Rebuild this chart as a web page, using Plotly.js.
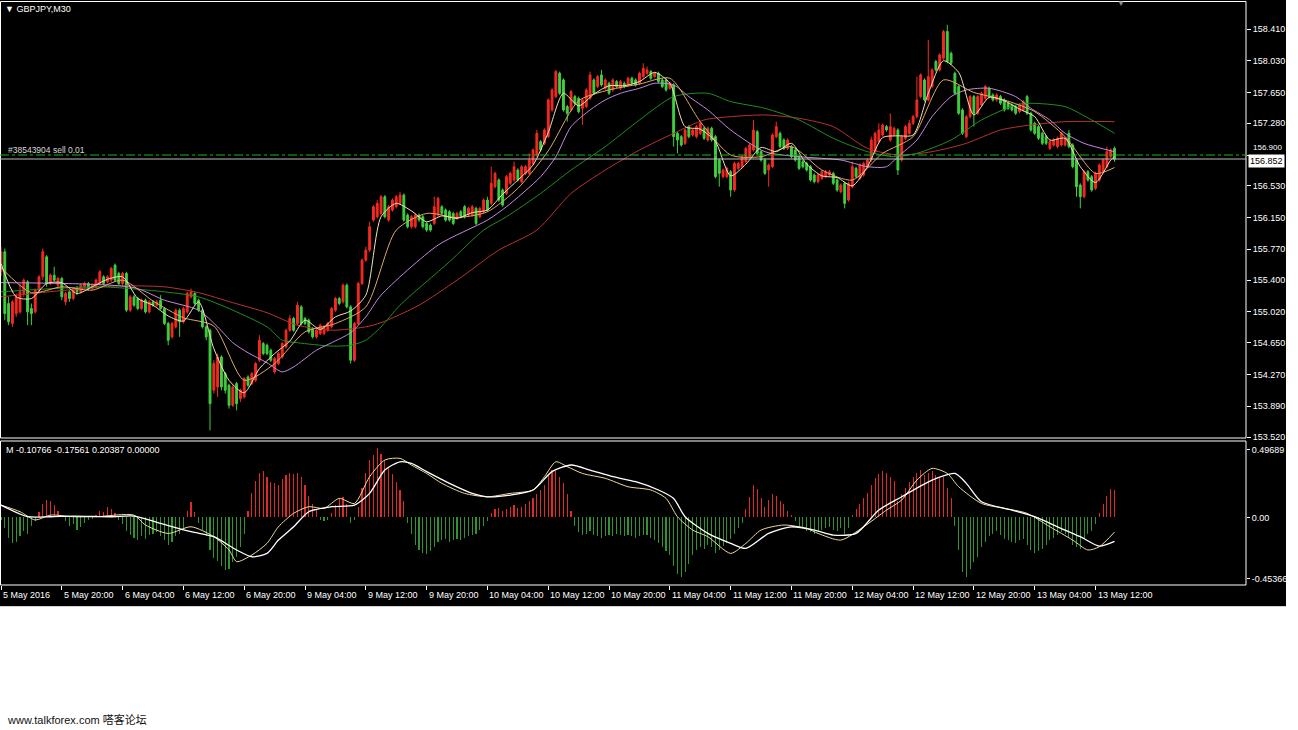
<!DOCTYPE html>
<html><head><meta charset="utf-8">
<script src="https://cdn.plot.ly/plotly-3.0.1.min.js"></script>
<style>html,body{margin:0;padding:0;background:#fff;overflow:hidden}#chart{width:1298px;height:730px}</style>
</head><body><div id="chart"></div>
<script>
const symbolTitle = "GBPJPY,M30";
const orderText = "#38543904 sell 0.01";
const indicatorText = "M -0.10766 -0.17561 0.20387 0.00000";
const watermark = "www.talkforex.com 嗒客论坛";
const orderPrice = 156.900;
const bidPrice = 156.852;

const timeLabels = ["5 May 2016","5 May 20:00","6 May 04:00","6 May 12:00","6 May 20:00","9 May 04:00","9 May 12:00","9 May 20:00","10 May 04:00","10 May 12:00","10 May 20:00","11 May 04:00","11 May 12:00","11 May 20:00","12 May 04:00","12 May 12:00","12 May 20:00","13 May 04:00","13 May 12:00"];
const barsPerLabel = 16;

const priceTicks = [158.410,158.030,157.650,157.280,156.900,156.530,156.150,155.770,155.400,155.020,154.650,154.270,153.890,153.520];
const macdTicks = [0.49689,0.00,-0.45366];
const macdTickText = ["0.49689","0.00","-0.45366"];

const opens = [
155.50,155.74,155.12,154.88,155.00,155.02,155.24,155.38,155.06,155.02,
155.28,155.44,155.68,155.36,155.46,155.34,155.42,155.14,155.26,155.18,
155.30,155.26,155.32,155.36,155.30,155.32,155.36,155.44,155.38,155.40,
155.58,155.48,155.36,155.48,155.04,155.20,155.18,155.06,155.16,155.02,
155.14,155.10,155.16,155.06,154.88,154.72,154.84,155.04,154.90,155.02,
155.20,155.24,155.16,155.04,154.84,154.80,154.08,154.12,154.48,154.28,
154.14,153.90,154.16,153.98,154.00,154.24,154.16,154.20,154.44,154.64,
154.62,154.56,154.30,154.40,154.48,154.60,154.80,154.94,154.88,155.08,
154.94,154.92,154.82,154.72,154.76,154.76,154.80,154.84,155.04,155.18,
155.14,155.34,155.08,154.44,154.88,155.36,155.64,155.76,156.12,156.16,
156.20,156.40,156.12,156.24,156.28,156.32,156.42,156.18,156.04,156.04,
156.18,156.16,156.08,156.06,156.08,156.18,156.28,156.24,156.22,156.20,
156.14,156.22,156.28,156.18,156.18,156.26,156.16,156.22,156.36,156.32,
156.52,156.60,156.48,156.44,156.56,156.60,156.72,156.58,156.68,156.68,
156.80,156.90,157.06,157.04,157.12,157.44,157.60,157.88,157.80,157.48,
157.44,157.60,157.58,157.46,157.48,157.58,157.80,157.72,157.86,157.70,
157.76,157.68,157.78,157.70,157.76,157.74,157.82,157.80,157.76,157.84,
157.88,157.90,157.84,157.88,157.80,157.80,157.70,157.74,157.16,157.12,
157.04,157.24,157.14,157.12,157.16,157.22,157.08,157.22,157.12,156.84,
156.64,156.64,156.70,156.48,156.74,156.76,156.82,156.88,156.96,157.18,
156.94,156.84,156.72,156.76,157.12,157.16,157.08,156.98,157.00,156.96,
156.88,156.82,156.80,156.76,156.66,156.58,156.62,156.64,156.66,156.68,
156.60,156.46,156.56,156.36,156.52,156.74,156.62,156.66,156.76,156.84,
156.94,157.06,157.14,157.24,157.08,157.14,157.20,156.84,157.10,157.16,
157.28,157.36,157.60,157.80,157.56,157.72,158.02,157.92,158.06,158.38,
158.12,157.88,157.72,157.44,157.12,157.36,157.60,157.40,157.50,157.58,
157.70,157.62,157.56,157.60,157.56,157.52,157.50,157.48,157.42,157.44,
157.60,157.40,157.28,157.24,157.16,157.12,156.98,157.02,157.00,157.02,
157.02,157.16,157.02,156.84,156.54,156.40,156.70,156.64,156.50,156.60,
156.70,156.76,156.88,156.98];

const highs = [
155.80,155.78,155.20,155.16,155.24,155.36,155.42,155.40,155.12,155.30,
155.46,155.78,155.70,155.48,155.56,155.44,155.44,155.26,155.28,155.32,
155.33,155.36,155.38,155.38,155.36,155.42,155.52,155.46,155.46,155.56,
155.60,155.50,155.50,155.50,155.22,155.22,155.20,155.18,155.18,155.16,
155.16,155.16,155.22,155.08,154.90,154.90,155.06,155.06,155.08,155.26,
155.30,155.26,155.18,155.06,154.86,154.82,154.44,154.52,154.50,154.30,
154.16,154.14,154.18,154.10,154.24,154.26,154.30,154.42,154.74,154.66,
154.64,154.58,154.48,154.54,154.66,154.82,154.98,154.96,155.14,155.10,
154.96,154.94,154.84,154.82,154.88,154.86,154.90,155.08,155.20,155.20,
155.36,155.36,155.10,154.90,155.38,155.66,155.80,156.10,156.30,156.36,
156.42,156.42,156.30,156.38,156.42,156.46,156.44,156.20,156.18,156.20,
156.20,156.18,156.10,156.08,156.40,156.40,156.30,156.26,156.24,156.22,
156.22,156.24,156.30,156.28,156.30,156.28,156.28,156.38,156.40,156.76,
156.70,156.62,156.50,156.66,156.70,156.82,156.74,156.78,156.78,156.92,
156.98,157.20,157.08,157.22,157.58,157.70,157.92,157.90,157.82,157.50,
157.68,157.62,157.60,157.58,157.70,157.90,157.82,157.86,157.92,157.82,
157.78,157.82,157.80,157.80,157.78,157.84,157.84,157.82,157.90,158.00,
157.96,157.92,157.90,157.90,157.82,157.82,157.78,157.76,157.18,157.14,
157.22,157.26,157.22,157.26,157.30,157.24,157.24,157.24,157.14,156.86,
156.74,156.76,156.72,156.82,156.82,156.90,157.00,157.04,157.32,157.20,
156.96,156.86,156.80,157.16,157.30,157.18,157.10,157.10,157.02,156.98,
156.90,156.84,156.82,156.78,156.68,156.68,156.72,156.72,156.72,156.70,
156.62,156.56,156.58,156.58,156.82,156.76,156.80,156.82,156.86,157.12,
157.18,157.28,157.28,157.26,157.40,157.24,157.22,157.14,157.26,157.32,
157.38,157.84,157.88,157.82,158.28,157.94,158.04,158.12,158.40,158.46,
158.14,157.90,157.74,157.46,157.38,157.62,157.62,157.62,157.66,157.74,
157.72,157.64,157.64,157.62,157.58,157.54,157.52,157.50,157.52,157.56,
157.62,157.42,157.30,157.26,157.18,157.14,157.08,157.10,157.12,157.18,
157.12,157.20,157.04,156.86,156.56,156.72,156.72,156.66,156.70,156.80,
156.86,157.00,156.98,157.00];

const lows = [
155.45,154.92,154.86,154.84,154.96,155.00,155.20,154.86,154.86,155.00,
155.24,155.40,155.32,155.34,155.38,155.30,155.16,155.10,155.14,155.16,
155.22,155.24,155.30,155.28,155.28,155.30,155.34,155.34,155.36,155.38,
155.38,155.34,155.34,155.02,155.02,155.08,155.04,155.04,155.00,155.00,
155.08,155.08,155.04,154.86,154.62,154.70,154.82,154.72,154.88,155.00,
155.18,155.10,155.02,154.82,154.68,153.60,154.04,154.00,154.08,154.04,
153.86,153.88,153.84,153.94,153.98,154.12,154.14,154.18,154.42,154.50,
154.50,154.42,154.28,154.38,154.46,154.58,154.78,154.78,154.86,154.86,
154.86,154.76,154.70,154.70,154.74,154.74,154.78,154.82,155.02,155.10,
155.12,155.06,154.40,154.42,154.86,155.34,155.62,155.74,156.10,156.14,
156.18,156.14,156.10,156.22,156.26,156.30,156.10,156.02,156.02,156.02,
156.10,156.02,155.98,155.98,156.06,156.16,156.18,156.10,156.10,156.06,
156.12,156.14,156.14,156.16,156.16,156.06,156.14,156.20,156.22,156.30,
156.50,156.34,156.28,156.42,156.54,156.58,156.58,156.56,156.66,156.66,
156.78,156.88,156.94,157.02,157.10,157.42,157.58,157.62,157.42,157.30,
157.42,157.50,157.40,157.26,157.46,157.56,157.62,157.70,157.72,157.68,
157.62,157.66,157.70,157.68,157.70,157.72,157.74,157.72,157.74,157.82,
157.86,157.80,157.82,157.76,157.70,157.66,157.68,157.00,156.92,157.00,
157.02,157.10,157.12,157.10,157.14,157.08,157.06,157.06,156.62,156.52,
156.62,156.62,156.40,156.46,156.72,156.74,156.80,156.86,156.94,156.90,
156.82,156.66,156.52,156.74,157.10,156.98,156.96,156.96,156.86,156.82,
156.72,156.74,156.70,156.58,156.56,156.56,156.60,156.62,156.64,156.54,
156.46,156.44,156.26,156.34,156.50,156.62,156.60,156.64,156.74,156.82,
156.92,157.04,157.12,157.18,157.06,157.12,156.66,156.82,157.08,157.14,
157.26,157.34,157.58,157.54,157.54,157.70,157.90,157.90,158.04,158.00,
157.98,157.62,157.38,157.14,157.10,157.34,157.24,157.38,157.48,157.56,
157.58,157.54,157.54,157.50,157.42,157.44,157.42,157.38,157.40,157.42,
157.38,157.18,157.14,157.08,157.02,157.02,156.96,157.00,156.98,157.00,
157.00,156.98,156.74,156.40,156.26,156.38,156.58,156.46,156.48,156.58,
156.68,156.74,156.86,156.82];

const closes = [
155.74,155.00,154.90,155.14,155.20,155.26,155.40,155.02,155.00,155.28,
155.44,155.74,155.36,155.46,155.40,155.42,155.20,155.24,155.18,155.30,
155.26,155.34,155.36,155.30,155.34,155.40,155.50,155.36,155.44,155.54,
155.40,155.36,155.48,155.04,155.20,155.10,155.06,155.16,155.02,155.14,
155.10,155.14,155.06,154.88,154.68,154.88,155.04,154.90,155.06,155.24,
155.26,155.12,155.04,154.84,154.72,153.92,154.40,154.48,154.12,154.08,
153.90,154.12,153.92,154.08,154.22,154.14,154.28,154.40,154.68,154.52,
154.52,154.44,154.46,154.52,154.64,154.80,154.94,154.80,155.10,154.88,
154.88,154.78,154.72,154.80,154.86,154.84,154.88,155.06,155.18,155.12,
155.34,155.08,154.44,154.88,155.36,155.64,155.76,156.04,156.28,156.32,
156.40,156.16,156.28,156.36,156.40,156.42,156.12,156.04,156.16,156.18,
156.12,156.04,156.00,156.00,156.28,156.38,156.20,156.12,156.12,156.08,
156.20,156.16,156.16,156.26,156.28,156.08,156.26,156.36,156.24,156.56,
156.68,156.36,156.30,156.64,156.68,156.76,156.60,156.76,156.76,156.84,
156.96,157.16,156.96,157.20,157.56,157.68,157.90,157.64,157.44,157.40,
157.66,157.52,157.42,157.56,157.68,157.86,157.64,157.84,157.74,157.80,
157.64,157.80,157.72,157.78,157.72,157.82,157.76,157.74,157.88,157.94,
157.92,157.82,157.88,157.78,157.72,157.68,157.76,157.12,157.08,157.02,
157.20,157.12,157.20,157.24,157.28,157.10,157.22,157.08,156.64,156.68,
156.72,156.74,156.48,156.80,156.80,156.88,156.98,157.02,157.20,156.92,
156.84,156.68,156.78,157.14,157.24,157.00,156.98,157.08,156.88,156.84,
156.74,156.76,156.72,156.60,156.58,156.66,156.70,156.70,156.70,156.56,
156.48,156.54,156.32,156.56,156.76,156.64,156.78,156.80,156.84,157.08,
157.16,157.20,157.26,157.20,157.24,157.22,156.72,157.12,157.24,157.28,
157.36,157.56,157.86,157.56,157.84,157.92,157.92,158.10,158.38,158.02,
158.00,157.64,157.40,157.16,157.36,157.60,157.40,157.60,157.64,157.72,
157.60,157.56,157.62,157.52,157.44,157.46,157.44,157.40,157.50,157.54,
157.40,157.20,157.16,157.10,157.04,157.04,157.06,157.08,157.10,157.16,
157.10,157.00,156.76,156.52,156.40,156.70,156.60,156.48,156.68,156.78,
156.84,156.94,156.96,156.85];

// moving averages at sample bars
const maFastBars = [0,4,8,12,16,20,24,28,32,36,40,44,48,52,56,60,64,68,72,76,80,84,88,92,96,100,104,108,112,116,120,124,128,132,136,140,144,148,152,156,160,164,168,172,176,180,184,188,192,196,200,204,208,212,216,220,224,228,232,236,240,244,248,252,256,260,264,268,272,276,280,284,288,292,293];
const maFast = [155.60,155.20,155.18,155.36,155.37,155.24,155.32,155.41,155.44,155.18,155.10,154.97,154.91,155.14,154.58,154.20,154.05,154.34,154.52,154.67,154.92,154.81,154.96,155.03,155.22,156.16,156.32,156.23,156.10,156.17,156.14,156.21,156.24,156.43,156.60,156.78,157.17,157.64,157.49,157.63,157.73,157.73,157.78,157.89,157.76,157.24,157.21,157.06,156.65,156.79,156.99,156.94,157.04,156.79,156.65,156.63,156.53,156.76,157.11,157.13,157.14,157.64,158.03,157.89,157.38,157.59,157.55,157.45,157.36,157.08,157.10,156.76,156.57,156.84,156.88];
const maTanBars = [0,8,16,24,32,40,48,56,64,72,80,88,96,104,112,120,128,136,144,152,160,168,176,184,192,200,208,216,224,232,240,248,256,264,272,280,288,293];
const maTan = [155.55,155.25,155.32,155.28,155.40,155.15,154.95,154.85,154.20,154.40,154.78,154.88,155.08,156.00,156.20,156.15,156.22,156.50,156.95,157.55,157.68,157.75,157.82,157.30,156.90,156.88,157.00,156.72,156.60,156.92,157.12,157.80,157.65,157.56,157.42,157.12,156.68,156.75];
const maVioletBars = [0,35,43,52,57,61,65,70,74,77,83,87,92,96,100,115,128,133,142,146,150,155,159,163,168,172,177,181,186,192,201,210,221,228,233,236,241,245,250,254,260,267,271,276,280,285,293];
const maViolet = [155.37,155.31,155.16,155.04,154.84,154.65,154.53,154.41,154.30,154.36,154.56,154.65,154.77,154.96,155.22,155.82,156.12,156.28,156.64,156.88,157.24,157.44,157.56,157.64,157.70,157.76,157.74,157.60,157.44,157.20,156.94,156.88,156.84,156.76,156.76,156.88,157.08,157.36,157.60,157.68,157.70,157.60,157.46,157.32,157.16,157.04,156.94];
const maGreenBars = [0,26,43,52,61,70,74,78,87,92,96,100,105,118,127,133,142,150,159,168,177,186,192,201,210,219,228,235,241,250,258,267,271,280,287,293];
const maGreen = [155.26,155.32,155.26,155.20,155.04,154.84,154.68,154.65,154.61,154.62,154.68,154.84,155.10,155.62,156.00,156.16,156.44,156.72,157.00,157.32,157.60,157.64,157.54,157.46,157.32,157.10,156.94,156.88,156.92,157.08,157.32,157.50,157.52,157.48,157.32,157.16];
const maRedBars = [0,17,30,43,52,61,70,78,87,96,100,110,120,131,141,150,159,168,177,185,192,201,210,219,228,236,245,254,263,271,280,293];
const maRed = [155.20,155.28,155.33,155.32,155.25,155.13,155.01,154.86,154.80,154.84,154.89,155.10,155.40,155.76,156.00,156.44,156.72,156.96,157.16,157.32,157.36,157.38,157.34,157.24,156.98,156.90,156.94,157.04,157.20,157.26,157.30,157.30];

// indicator pane
const histogram = [
-0.02,-0.08,-0.15,-0.19,-0.18,-0.14,-0.10,-0.12,-0.06,-0.03,
0.04,0.10,0.13,0.12,0.09,0.05,0.02,-0.03,-0.06,-0.05,
-0.09,-0.07,-0.04,-0.02,-0.01,0.02,0.05,0.04,0.08,0.06,
0.03,-0.02,-0.05,-0.10,-0.13,-0.15,-0.17,-0.14,-0.16,-0.13,
-0.12,-0.11,-0.14,-0.17,-0.20,-0.18,-0.14,-0.12,-0.08,0.05,
0.11,0.04,-0.04,-0.09,-0.14,-0.24,-0.30,-0.32,-0.36,-0.39,
-0.38,-0.33,-0.29,-0.22,-0.12,0.05,0.18,0.27,0.33,0.34,
0.30,0.26,0.25,0.24,0.28,0.31,0.33,0.32,0.33,0.30,
0.24,0.16,0.10,0.06,-0.02,-0.03,-0.02,0.03,0.09,0.14,
0.15,0.10,-0.04,-0.02,0.08,0.22,0.33,0.42,0.46,0.51,
0.47,0.42,0.37,0.32,0.26,0.20,0.12,-0.04,-0.12,-0.20,
-0.24,-0.26,-0.27,-0.25,-0.22,-0.18,-0.17,-0.16,-0.18,-0.17,
-0.16,-0.17,-0.15,-0.14,-0.13,-0.12,-0.09,-0.06,-0.03,0.03,
0.06,0.07,0.05,0.06,0.08,0.09,0.07,0.08,0.10,0.12,
0.14,0.17,0.20,0.24,0.31,0.35,0.34,0.30,0.25,0.17,
0.05,-0.06,-0.11,-0.13,-0.12,-0.10,-0.13,-0.14,-0.15,-0.14,
-0.13,-0.14,-0.12,-0.13,-0.14,-0.13,-0.14,-0.15,-0.14,-0.13,
-0.13,-0.15,-0.17,-0.19,-0.22,-0.25,-0.28,-0.36,-0.42,-0.44,
-0.40,-0.34,-0.28,-0.24,-0.22,-0.23,-0.20,-0.22,-0.26,-0.24,
-0.21,-0.19,-0.16,-0.12,-0.08,-0.04,0.06,0.15,0.24,0.21,
0.14,0.08,0.13,0.17,0.16,0.12,0.10,0.05,0.02,-0.03,
-0.06,-0.08,-0.10,-0.11,-0.12,-0.10,-0.09,-0.08,-0.07,-0.09,
-0.10,-0.08,-0.12,-0.08,0.02,0.06,0.10,0.14,0.18,0.24,
0.29,0.32,0.34,0.33,0.30,0.27,0.12,0.17,0.22,0.26,
0.30,0.33,0.35,0.31,0.33,0.34,0.31,0.29,0.30,0.22,
0.14,-0.06,-0.24,-0.40,-0.44,-0.38,-0.33,-0.29,-0.22,-0.18,
-0.14,-0.12,-0.10,-0.13,-0.16,-0.17,-0.18,-0.19,-0.17,-0.16,
-0.20,-0.24,-0.26,-0.25,-0.23,-0.20,-0.17,-0.15,-0.13,-0.11,
-0.12,-0.15,-0.20,-0.22,-0.23,-0.16,-0.12,-0.10,-0.05,0.03,
0.10,0.16,0.21,0.20387];
const signalYellowBars = [0,5,9,13,19,25,35,38,44,50,56,60,62,66,70,73,77,81,85,89,93,97,101,105,108,112,116,122,128,134,140,143,146,149,153,159,165,171,175,178,182,186,192,196,200,206,212,215,221,227,233,237,241,245,249,252,258,264,270,276,282,286,289,293];
const signalYellow = [0.091,0.042,-0.019,0.017,0.005,0.005,0.017,-0.056,-0.118,-0.069,-0.142,-0.240,-0.326,-0.277,-0.191,-0.069,0.030,0.079,0.067,0.140,0.103,0.300,0.423,0.435,0.386,0.324,0.251,0.177,0.152,0.177,0.202,0.300,0.410,0.374,0.324,0.288,0.226,0.202,0.140,0.005,-0.093,-0.142,-0.265,-0.191,-0.093,-0.056,-0.081,-0.118,-0.167,-0.069,0.054,0.128,0.275,0.361,0.324,0.226,0.103,0.067,0.030,-0.069,-0.167,-0.240,-0.216,-0.108];
const signalWhiteBars = [0,7,13,19,29,35,42,50,56,62,66,70,73,77,81,87,93,97,101,105,108,112,118,124,128,134,140,145,150,155,161,167,173,177,180,186,192,196,202,208,214,219,225,231,237,245,251,254,258,266,272,278,284,289,293];
const signalWhite = [0.091,0.005,0.005,0.010,0.005,0.010,-0.044,-0.105,-0.142,-0.240,-0.290,-0.265,-0.167,-0.069,0.042,0.079,0.091,0.177,0.349,0.410,0.398,0.337,0.251,0.177,0.152,0.165,0.202,0.337,0.386,0.349,0.300,0.263,0.202,0.140,0.005,-0.118,-0.191,-0.228,-0.118,-0.069,-0.093,-0.130,-0.118,0.054,0.152,0.275,0.324,0.251,0.115,0.054,0.005,-0.069,-0.142,-0.211,-0.176];

// ---------- drawing ----------
const W = 1298, H = 730, PLOT_W = 1246;
const py = y => 1 - y / H;
const pxp = x => x / PLOT_W;
const FONT = "Liberation Sans, Arial, sans-serif";
const bars = closes.map((_, i) => i);
const labelBars = timeLabels.map((_, k) => k * barsPerLabel);

const maLine = (xs, ys, color) => ({type:'scatter', mode:'lines', x: xs, y: ys, xaxis:'x2', yaxis:'y',
  line:{color: color, width: 1, shape:'spline', smoothing: 0.7}, hoverinfo:'skip'});

const traces = [
  maLine(maRedBars, maRed, '#b83232'),
  maLine(maGreenBars, maGreen, '#1f8f1f'),
  maLine(maVioletBars, maViolet, '#c58ae0'),
  maLine(maTanBars, maTan, '#e0a868'),
  maLine(maFastBars, maFast, '#f3e2b8'),
  {type:'candlestick', x: bars, open: opens, high: highs, low: lows, close: closes, xaxis:'x2', yaxis:'y',
   increasing:{line:{color:'#f42a22', width:1}, fillcolor:'#f42a22'},
   decreasing:{line:{color:'#3fcf3f', width:1}, fillcolor:'#3fcf3f'},
   whiskerwidth: 0, hoverinfo:'skip'},
  {type:'bar', x: bars, y: histogram, xaxis:'x', yaxis:'y2', width: 0.3,
   marker:{color: histogram.map(v => v >= 0 ? '#e02a2a' : '#2f932f'), line:{width:0}}, hoverinfo:'skip'},
  {type:'scatter', mode:'lines', x: signalYellowBars, y: signalYellow, xaxis:'x', yaxis:'y2',
   line:{color:'#eedc9a', width:1, shape:'spline', smoothing:0.7}, hoverinfo:'skip'},
  {type:'scatter', mode:'lines', x: signalWhiteBars, y: signalWhite, xaxis:'x', yaxis:'y2',
   line:{color:'#ffffff', width:1.3, shape:'spline', smoothing:0.7}, hoverinfo:'skip'}
];

const priceFmt = v => v.toFixed(3);
const annotations = [
  {text:'▼ ' + symbolTitle, xref:'paper', yref:'paper', x: pxp(3), y: py(9), xanchor:'left', yanchor:'middle', showarrow:false, font:{family:FONT, size:9, color:'#ffffff'}},
  {text: orderText, xref:'paper', yref:'paper', x: pxp(6), y: py(150), xanchor:'left', yanchor:'middle', showarrow:false, font:{family:FONT, size:8.5, color:'#d8d8d8'}},
  {text: indicatorText, xref:'paper', yref:'paper', x: pxp(4), y: py(450), xanchor:'left', yanchor:'middle', showarrow:false, font:{family:FONT, size:9, color:'#ffffff'}},
  // order-price tick label sits just above the bid box (in the reference it is tucked behind it)
  {text: priceFmt(orderPrice), xref:'paper', yref:'paper', x: pxp(1251), y: py(147), xanchor:'left', yanchor:'middle', showarrow:false, font:{family:FONT, size:8, color:'#ffffff'}},
  {text: priceFmt(bidPrice), xref:'paper', yref:'y', x: pxp(1248), y: bidPrice, xanchor:'left', yanchor:'top', yshift: 5, showarrow:false, bgcolor:'#ffffff', borderpad:1, font:{family:FONT, size:9, color:'#000000'}},
  {text:'▼', xref:'paper', yref:'paper', x: pxp(1121), y: py(3), xanchor:'center', yanchor:'middle', showarrow:false, font:{family:FONT, size:8, color:'#8a8a8a'}},
  {text: watermark, xref:'paper', yref:'paper', x: pxp(5), y: py(719), xanchor:'left', yanchor:'middle', showarrow:false, font:{family:"Liberation Sans, Noto Sans CJK SC, sans-serif", size:11, color:'#111111'}}
];
timeLabels.forEach((t, k) => annotations.push({text: t, xref:'x', yref:'paper', x: labelBars[k], y: py(595), xanchor:'left', yanchor:'middle', showarrow:false, font:{family:FONT, size:9, color:'#ffffff'}}));

const shapes = [
  {type:'rect', xref:'paper', yref:'paper', x0: 0, x1: 1286/PLOT_W, y0: py(607), y1: 1, fillcolor:'#000000', line:{width:0}, layer:'below'},
  {type:'rect', xref:'paper', yref:'paper', x0: pxp(0.5), x1: 1, y0: py(438), y1: py(1.5), line:{color:'#ffffff', width:1}, fillcolor:'rgba(0,0,0,0)', layer:'above'},
  {type:'rect', xref:'paper', yref:'paper', x0: pxp(0.5), x1: 1, y0: py(585), y1: py(441), line:{color:'#ffffff', width:1}, fillcolor:'rgba(0,0,0,0)', layer:'above'},
  {type:'line', xref:'paper', yref:'y', x0: 0, x1: 1, y0: orderPrice, y1: orderPrice, line:{color:'#14b814', width:1, dash:'dashdot'}},
  {type:'line', xref:'paper', yref:'y', x0: 0, x1: 1, y0: bidPrice, y1: bidPrice, line:{color:'#bcbcbc', width:1}},
  {type:'line', xref:'paper', yref:'paper', x0: 0, x1: 1286/PLOT_W, y0: py(606.5), y1: py(606.5), line:{color:'#d0d0d0', width:1}}
];

const axisFont = {family:FONT, size:9, color:'#ffffff'};
const layout = {
  width: W, height: H, margin:{l:0, r:W-PLOT_W, t:0, b:0, pad:0},
  paper_bgcolor:'#ffffff', plot_bgcolor:'#000000', showlegend:false, bargap:0,
  xaxis:{domain:[0,1], anchor:'y2', range:[-0.263, 327.6], tickvals: labelBars, ticks:'outside', ticklen:4, tickcolor:'#ffffff',
         showticklabels:false, showgrid:false, zeroline:false, showline:false, rangeslider:{visible:false}, fixedrange:true},
  xaxis2:{domain:[0,1], anchor:'y', matches:'x', showticklabels:false, ticks:'', showgrid:false, zeroline:false, showline:false, rangeslider:{visible:false}},
  yaxis:{domain:[py(438), py(2)], anchor:'x2', side:'right', range:[153.508, 158.734], tickvals: priceTicks,
         ticktext: priceTicks.map(v => v === orderPrice ? '' : priceFmt(v)),
         ticks:'outside', ticklen:4, tickcolor:'#ffffff', tickfont: axisFont, showgrid:false, zeroline:false, showline:false},
  yaxis2:{domain:[py(585), py(441)], anchor:'x', side:'right', range:[-0.498, 0.563], tickvals: macdTicks, ticktext: macdTickText,
          ticks:'outside', ticklen:3, tickcolor:'#ffffff', tickfont: axisFont, showgrid:false, zeroline:false, showline:false},
  annotations: annotations, shapes: shapes
};

Plotly.newPlot('chart', traces, layout, {displayModeBar:false, staticPlot:true});
</script></body></html>
